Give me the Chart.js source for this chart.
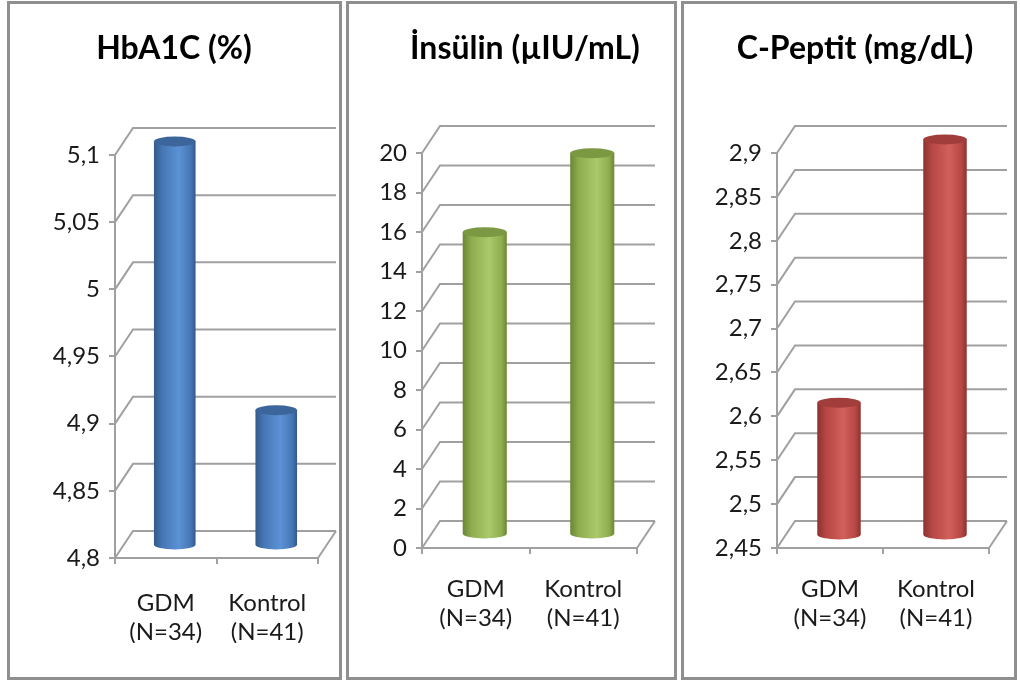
<!DOCTYPE html>
<html>
<head>
<meta charset="utf-8">
<script src="https://cdn.jsdelivr.net/npm/chart.js@4/dist/chart.umd.min.js"></script>
<style>
  body { margin: 0; background: #fff; width: 1020px; height: 681px; position: relative; overflow: hidden; }
  .panel { position: absolute; top: 1px; height: 679px; box-sizing: border-box; border: 3px solid #8f8f8f; }
  .panel canvas { position: absolute; left: 0; top: 0; }
  .title { position: absolute; top: 27px; transform: translateX(-50%); white-space: nowrap;
           font: bold 32px Lato, sans-serif; color: #000; }
</style>
</head>
<body>
<div class="panel" id="p1" style="left:7px;width:335px"><canvas id="c1" width="329" height="673"></canvas></div>
<div class="panel" id="p2" style="left:346px;width:331px"><canvas id="c2" width="325" height="673"></canvas></div>
<div class="panel" id="p3" style="left:681px;width:336px"><canvas id="c3" width="330" height="673"></canvas></div>
<div class="title" style="left:174px">HbA1C (%)</div>
<div class="title" style="left:525px">İnsülin (µIU/mL)</div>
<div class="title" style="left:855px">C-Peptit (mg/dL)</div>
<script>
// data
const groups = [['GDM', '(N=34)'], ['Kontrol', '(N=41)']];
const hba1c = [5.1, 4.9];
const insulin = [15.3, 19.3];
const cpeptit = [2.6, 2.9];

const hba1cTicks = [4.8, 4.85, 4.9, 4.95, 5, 5.05, 5.1];
const insulinTicks = [0, 2, 4, 6, 8, 10, 12, 14, 16, 18, 20];
const cpeptitTicks = [2.45, 2.5, 2.55, 2.6, 2.65, 2.7, 2.75, 2.8, 2.85, 2.9];

const gridColor = '#a0a0a0';
const depthX = 18, depthY = 27;

// back wall lines + cylinder bars
const depth3d = {
  id: 'depth3d',
  beforeDatasetsDraw(chart) {
    const ctx = chart.ctx, a = chart.chartArea, y = chart.scales.y;
    ctx.save();
    ctx.strokeStyle = gridColor;
    ctx.lineWidth = 2;
    y.ticks.forEach(t => {
      const py = y.getPixelForValue(t.value);
      ctx.beginPath();
      ctx.moveTo(a.left, py);
      ctx.lineTo(a.left + depthX, py - depthY);
      ctx.lineTo(a.right + depthX, py - depthY);
      ctx.stroke();
    });
    ctx.beginPath();
    ctx.moveTo(a.right, a.bottom);
    ctx.lineTo(a.right + depthX, a.bottom - depthY);
    ctx.stroke();
    ctx.restore();
  },
  afterDatasetsDraw(chart, args, opts) {
    const ctx = chart.ctx;
    const c = opts.colors;
    const floor = chart.scales.y.getPixelForValue(chart.scales.y.min);
    chart.getDatasetMeta(0).data.forEach(bar => {
      const x = bar.x + depthX / 2;
      const top = bar.y - depthY / 2;
      const base = Math.min(bar.base, floor) - depthY / 2;
      const r = bar.width / 2, ry = 5;
      const g = ctx.createLinearGradient(x - r, 0, x + r, 0);
      g.addColorStop(0, c.dark);
      g.addColorStop(0.2, c.mid);
      g.addColorStop(0.6, c.light);
      g.addColorStop(0.88, c.mid);
      g.addColorStop(1, c.dark);
      ctx.save();
      ctx.fillStyle = g;
      ctx.beginPath();
      ctx.moveTo(x - r, top);
      ctx.lineTo(x - r, base);
      ctx.ellipse(x, base, r, ry, 0, Math.PI, 0, true);
      ctx.lineTo(x + r, top);
      ctx.closePath();
      ctx.fill();
      ctx.fillStyle = c.top;
      ctx.beginPath();
      ctx.ellipse(x, top, r, ry, 0, 0, Math.PI * 2);
      ctx.fill();
      ctx.restore();
    });
  }
};

const tickFont = { family: 'Lato, sans-serif', size: 24, lineHeight: 1.2 };

function makeChart(id, values, tickVals, colors, geo) {
  new Chart(document.getElementById(id), {
    type: 'bar',
    data: {
      labels: groups,
      datasets: [{
        data: values,
        backgroundColor: 'rgba(0,0,0,0)',
        borderWidth: 0,
        barPercentage: 0.41,
        categoryPercentage: 1
      }]
    },
    options: {
      responsive: false,
      animation: false,
      layout: { padding: { top: geo.top, right: geo.right, bottom: geo.bottom, left: 0 } },
      plugins: {
        legend: { display: false },
        tooltip: { enabled: false },
        depth3d: { colors: colors }
      },
      scales: {
        x: {
          grid: { offset: true, drawOnChartArea: false, tickLength: 6, color: gridColor, lineWidth: 2 },
          border: { color: gridColor, width: 2 },
          ticks: { font: tickFont, color: '#1a1a1a', padding: geo.xPad, maxRotation: 0 },
          afterFit: s => { s.height = 85; }
        },
        y: {
          min: tickVals[0],
          max: tickVals[tickVals.length - 1],
          afterBuildTicks: s => { s.ticks = tickVals.map(v => ({ value: v })); },
          grid: { drawOnChartArea: false, tickLength: 6, color: gridColor, lineWidth: 2 },
          border: { color: gridColor, width: 2 },
          ticks: {
            font: tickFont, color: '#1a1a1a', padding: 9,
            callback: v => String(+v.toFixed(2)).replace('.', ',')
          },
          afterFit: s => { s.width = geo.yWidth; }
        }
      }
    },
    plugins: [depth3d]
  });
}

makeChart('c1', hba1c, hba1cTicks,
  { dark: '#33598a', mid: '#4677b5', light: '#5b92d6', top: '#3c659b' },
  { top: 151, right: 21, bottom: 34, yWidth: 105, xPad: 25 });
makeChart('c2', insulin, insulinTicks,
  { dark: '#6c8634', mid: '#8fad4f', light: '#a9c96a', top: '#7b9842' },
  { top: 149, right: 37, bottom: 44, yWidth: 73, xPad: 21 });
makeChart('c3', cpeptit, cpeptitTicks,
  { dark: '#8a3230', mid: '#b64744', light: '#d25f5b', top: '#a13e3c' },
  { top: 149, right: 25, bottom: 44, yWidth: 93, xPad: 21 });
</script>
</body>
</html>
